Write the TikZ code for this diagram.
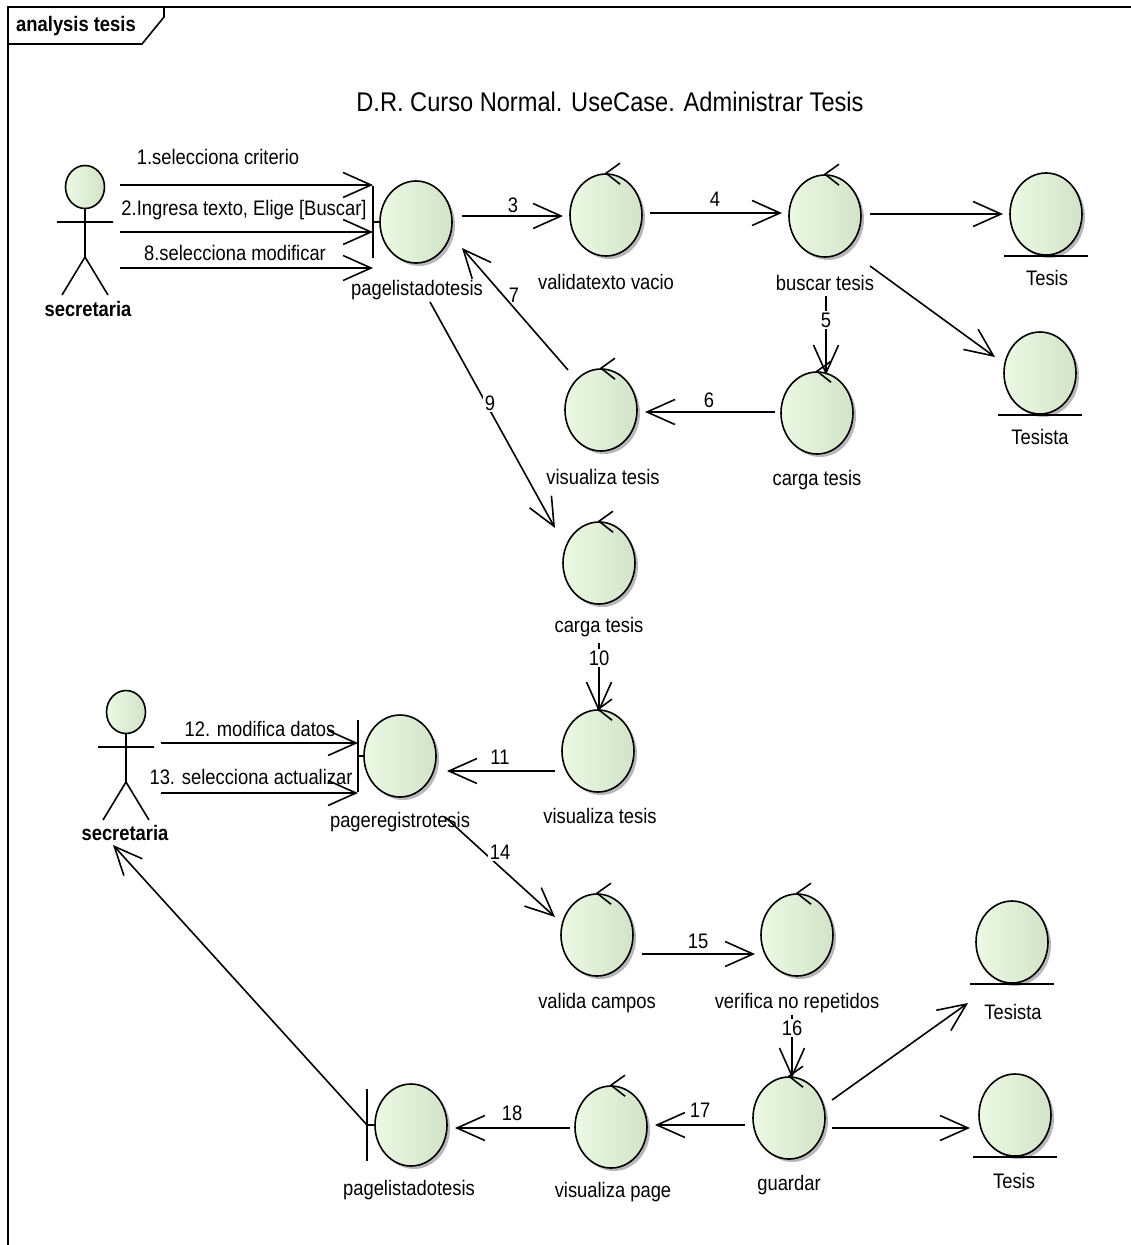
\documentclass[tikz,border=0pt]{standalone}
\usepackage{fontspec}
\setmainfont{Liberation Sans}[FakeStretch=0.875]
\usetikzlibrary{arrows.meta,shapes.geometric,shadows}

\definecolor{lgA}{RGB}{236,249,228}
\definecolor{lgB}{RGB}{210,227,200}

\tikzset{
  lw/.style={line width=1.6pt},
  obj/.style={ellipse, draw, lw, minimum width=72pt, minimum height=82pt, inner sep=0pt,
    left color=lgA, right color=lgB,
    general shadow={shadow xshift=3pt, shadow yshift=-3pt, fill=black!28}},
  lbl/.style={font=\fontsize{21}{24}\selectfont, inner sep=1pt},
  num/.style={lbl, fill=white, inner sep=1.5pt},
  msg/.style={lw, -{Straight Barb[length=28pt, width=25pt, line width=1.6pt]}},
  actorfig/.pic={
    \draw[lw, left color=lgA, right color=lgB] (0,0) ellipse [x radius=19.5pt, y radius=21.5pt];
    \draw[lw] (-28,35) -- (28,35) (0,21.5) -- (0,70) (-23,108) -- (0,70) -- (23,108);
  }
}

% control glyph: small open arrow head sitting on top of the ellipse
\newcommand{\ctlmark}[1]{\draw[lw] ([shift={(14,-10)}]#1.north) -- (#1.north) -- ([shift={(14,11)}]#1.north);}
% entity glyph: underline
\newcommand{\entline}[1]{\draw[lw] ([shift={(-42,42)}]#1.center) -- ([shift={(42,42)}]#1.center);}
% boundary glyph: vertical bar on the left
\newcommand{\bndbar}[2]{\draw[lw] ([shift={(#2,-36)}]#1.center) -- ([shift={(#2,36)}]#1.center)
  ([shift={(#2,0)}]#1.center) -- (#1.west);}

\begin{document}
\begin{tikzpicture}[x=1pt,y=-1pt]
\fill[white] (0,0) rectangle (1131,1245);
\useasboundingbox (0,0) rectangle (1131,1245);

% frame and its tag
\draw[lw] (8,1250) -- (8,7) -- (1140,7);
\draw[lw] (8,44) -- (142,44) -- (164,17) -- (164,7);
\node[font=\bfseries\fontsize{21}{24}\selectfont] (frametag) at (76,26) {analysis tesis};

\node[font=\fontsize{27}{30}\selectfont] (title) at (610,102) {D.R. Curso Normal. UseCase. Administrar Tesis};

% actors
\coordinate (act1) at (85,187);
\pic at (act1) {actorfig};
\node[lbl, font=\bfseries\fontsize{21}{24}\selectfont] (act1-l) at (88,309) {secretaria};
\coordinate (act2) at (126,712);
\pic at (act2) {actorfig};
\node[lbl, font=\bfseries\fontsize{21}{24}\selectfont] (act2-l) at (125,833) {secretaria};

% upper part
\node[obj] (plt1) at (416,222) {}; \bndbar{plt1}{-43}
\node[lbl] (plt1-l) at (417,290) {pagelistadotesis};
\node[obj] (vtv) at (606,215) {}; \ctlmark{vtv}
\node[lbl] (vtv-l) at (606,282) {validatexto vacio};
\node[obj] (bus) at (825,216) {}; \ctlmark{bus}
\node[lbl] (bus-l) at (825,283) {buscar tesis};
\node[obj] (tes1) at (1046,214) {}; \entline{tes1}
\node[lbl] (tes1-l) at (1047,278) {Tesis};
\node[obj] (tsa1) at (1040,373) {}; \entline{tsa1}
\node[lbl] (tsa1-l) at (1040,437) {Tesista};
\node[obj] (car1) at (817,413) {}; \ctlmark{car1}
\node[lbl] (car1-l) at (817,480) {carga tesis};
\node[obj] (vis1) at (601,410) {}; \ctlmark{vis1}
\node[lbl] (vis1-l) at (603,477) {visualiza tesis};
\node[obj] (car2) at (599,563) {}; \ctlmark{car2}
\node[lbl] (car2-l) at (599,627) {carga tesis};
\node[obj] (vis2) at (598,751) {}; \ctlmark{vis2}
\node[lbl] (vis2-l) at (600,816) {visualiza tesis};
\node[obj] (prt) at (400,756) {}; \bndbar{prt}{-42}
\node[lbl] (prt-l) at (400,822) {pageregistrotesis};

% lower part
\node[obj] (val) at (597,935) {}; \ctlmark{val}
\node[lbl] (val-l) at (597,1003) {valida campos};
\node[obj] (ver) at (797,935) {}; \ctlmark{ver}
\node[lbl] (ver-l) at (797,1003) {verifica no repetidos};
\node[obj] (gua) at (789,1118) {}; \ctlmark{gua}
\node[lbl] (gua-l) at (789,1185) {guardar};
\node[obj] (visp) at (611,1127) {}; \ctlmark{visp}
\node[lbl] (visp-l) at (613,1192) {visualiza page};
\node[obj] (plt2) at (411,1125) {}; \bndbar{plt2}{-44}
\node[lbl] (plt2-l) at (409,1190) {pagelistadotesis};
\node[obj] (tsa2) at (1012,942) {}; \entline{tsa2}
\node[lbl] (tsa2-l) at (1013,1012) {Tesista};
\node[obj] (tes2) at (1015,1115) {}; \entline{tes2}
\node[lbl] (tes2-l) at (1014,1181) {Tesis};

% messages from the first actor
\draw[msg] ([shift={(35,-2)}]act1) -- ([shift={(-43,-37)}]plt1.center);
\draw[msg] ([shift={(35,45)}]act1) -- ([shift={(-43,10)}]plt1.center);
\draw[msg] ([shift={(35,81)}]act1) -- ([shift={(-43,46)}]plt1.center);
\node[lbl] (m1) at (218,157) {1.selecciona criterio};
\node[lbl] (m2) at (244,210) {2.Ingresa texto, Elige [Buscar]};
\node[lbl] (m8) at (235,253) {8.selecciona modificar};

% upper flow
\draw[msg] ([shift={(46,-6)}]plt1.center) -- ([shift={(-43,1)}]vtv.center);
\node[lbl] (m3) at (513,205) {3};
\draw[msg] ([shift={(44,-2)}]vtv.center) -- ([shift={(-43,-3)}]bus.center);
\node[lbl] (m4) at (715,199) {4};
\draw[msg] ([shift={(45,-2)}]bus.center) -- ([shift={(-43,0)}]tes1.center);
\draw[msg] ([shift={(45,50)}]bus.center) -- ([shift={(-45,-16)}]tsa1.center);
\draw[msg] ([shift={(1,13)}]bus-l.center) -- ([shift={(9,-38)}]car1.center);
\node[num] (m5) at (826,320) {5};
\draw[msg] ([shift={(-42,-1)}]car1.center) -- ([shift={(44,2)}]vis1.center);
\node[lbl] (m6) at (709,400) {6};
\draw[msg] ([shift={(-33,-40)}]vis1.center) -- ([shift={(46,26)}]plt1.center);
\node[lbl] (m7) at (514,295) {7};
\draw[msg] ([shift={(13,12)}]plt1-l.center) -- ([shift={(-44,-35)}]car2.center);
\node[num] (m9) at (490,403) {9};
\draw[msg] ([shift={(0,16)}]car2-l.center) -- ([shift={(1,-39)}]vis2.center);
\node[num] (m10) at (599,658) {10};
\draw[msg] ([shift={(-43,20)}]vis2.center) -- ([shift={(47,15)}]prt.center);
\node[lbl] (m11) at (500,757) {11};

% messages from the second actor
\draw[msg] ([shift={(35,31)}]act2) -- ([shift={(-42,-13)}]prt.center);
\draw[msg] ([shift={(35,81)}]act2) -- ([shift={(-42,37)}]prt.center);
\node[lbl] (m12) at (260,729) {12. modifica datos};
\node[lbl] (m13) at (251,777) {13. selecciona actualizar};

% lower flow
\draw[msg] ([shift={(45,-5)}]prt-l.center) -- ([shift={(-42,-18)}]val.center);
\node[num] (m14) at (500,852) {14};
\draw[msg] ([shift={(45,19)}]val.center) -- ([shift={(-42,19)}]ver.center);
\node[lbl] (m15) at (698,941) {15};
\draw[msg] ([shift={(-5,12)}]ver-l.center) -- ([shift={(3,-40)}]gua.center);
\node[num] (m16) at (792,1028) {16};
\draw[msg] ([shift={(-44,7)}]gua.center) -- ([shift={(44,-2)}]visp.center);
\node[lbl] (m17) at (700,1110) {17};
\draw[msg] ([shift={(-41,1)}]visp.center) -- ([shift={(44,3)}]plt2.center);
\node[lbl] (m18) at (512,1113) {18};
\draw[msg] ([shift={(43,-18)}]gua.center) -- ([shift={(-44,61)}]tsa2.center);
\draw[msg] ([shift={(43,10)}]gua.center) -- ([shift={(-45,13)}]tes2.center);
\draw[msg] ([shift={(-44,0)}]plt2.center) -- ([shift={(-13,133)}]act2);
\end{tikzpicture}
\end{document}
